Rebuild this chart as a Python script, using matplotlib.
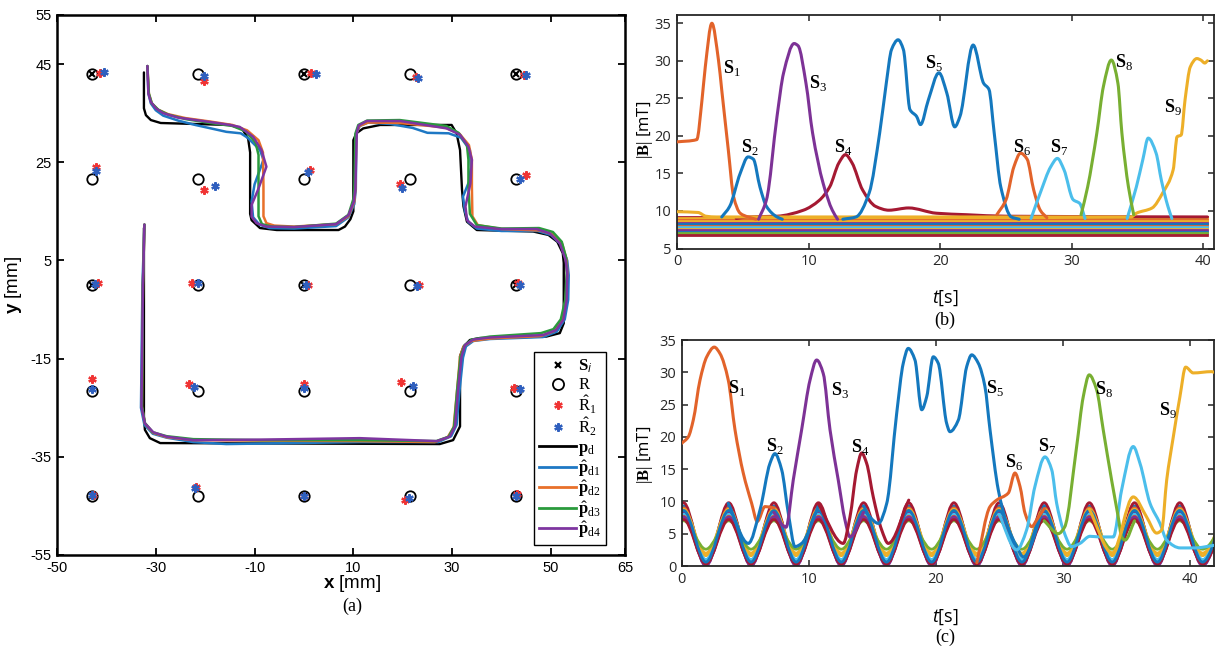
import numpy as np
import matplotlib
matplotlib.use('Agg')
import matplotlib.pyplot as plt
from matplotlib.path import Path
from matplotlib.patches import PathPatch
from matplotlib.lines import Line2D

plt.rcParams['axes.unicode_minus'] = False
plt.rcParams['mathtext.fontset'] = 'custom'
plt.rcParams['mathtext.rm'] = 'Liberation Serif'
plt.rcParams['mathtext.bf'] = 'Liberation Serif:bold'
plt.rcParams['mathtext.it'] = 'Open Sans:italic'
plt.rcParams['mathtext.sf'] = 'Liberation Sans:bold'

# ---------------- colours ----------------
MB, MO, MY, MP = '#1478BE', '#E2632A', '#EDAF28', '#7D3296'
MG, MC, MR = '#78AF32', '#4BBEEB', '#A51932'

# ---------------- panel (a) data ----------------
grid_x = [-43, -21.5, 0, 21.5, 43]
grid_y = [43, 21.5, 0, -21.5, -43]
sensor_x = [-43, 0, 43]
sensor_y = [43, 0, -43]

r1_x = [-41.2, -20.3, 1.35, 22.7, 44.55,
        -42.1, -20.3, 1.2, 19.5, 45.0,
        -41.8, -22.65, 0.9, 23.25, 43.4,
        -43.0, -23.3, 0.0, 19.7, 42.55,
        -42.8, -21.8, 0.1, 20.4, 43.2]
r1_y = [43.2, 41.6, 43.2, 42.45, 42.8,
        24.0, 19.3, 23.4, 20.55, 22.5,
        0.5, 0.35, 0.1, 0.0, 0.5,
        -19.2, -20.1, -20.15, -19.7, -20.9,
        -42.7, -41.2, -42.9, -43.75, -42.6]
r2_x = [-40.5, -20.2, 2.5, 23.0, 44.9,
        -42.1, -18.1, 0.9, 19.9, 43.75,
        -42.3, -21.5, 0.4, 22.9, 43.75,
        -43.0, -22.3, 0.0, 22.05, 43.7,
        -43.0, -22.0, 0.0, 21.3, 43.0]
r2_y = [43.3, 42.5, 43.0, 42.1, 42.8,
        23.2, 20.1, 23.1, 19.8, 21.5,
        0.15, 0.5, 0.0, -0.3, 0.0,
        -21.15, -20.75, -21.0, -20.55, -21.2,
        -42.8, -41.3, -42.9, -43.4, -43.0]

path_pd = [(-32.4, 43.3), (-32.4, 36.0), (-32.0, 34.6), (-31.0, 33.6), (-29.0, 33.0),
           (-15.0, 32.6), (-12.5, 31.8), (-11.3, 29.8), (-10.9, 27.0), (-10.9, 14.5),
           (-10.6, 13.2), (-8.9, 11.6), (-5.5, 11.2), (7.0, 11.2), (8.3, 11.9),
           (9.4, 13.4), (10.0, 15.0), (10.0, 29.5), (10.6, 30.9), (12.0, 31.9),
           (15.4, 32.6), (29.9, 32.6), (30.9, 30.9), (31.6, 27.5), (32.0, 19.4),
           (32.3, 16.0), (33.0, 12.9), (35.0, 11.2), (46.4, 10.9), (49.5, 10.2),
           (51.3, 8.8), (52.4, 6.5), (52.6, 4.5), (52.6, -7.8), (51.8, -9.8),
           (49.1, -10.5), (35.6, -10.8), (33.6, -11.2), (32.3, -12.6), (31.6, -14.5),
           (31.6, -28.8), (30.2, -31.6), (27.5, -32.4), (-29.1, -32.2), (-31.2, -31.2),
           (-32.2, -29.5), (-32.4, -27.0), (-32.4, 11.6)]

path_d1 = [(-31.7, 44.6), (-31.5, 39.0), (-31.0, 37.0), (-30.0, 35.6), (-28.5, 34.5),
           (-25.5, 33.5), (-22.0, 32.6), (-15.7, 31.2), (-12.8, 30.9), (-11.4, 30.0),
           (-8.9, 27.5), (-8.2, 25.5), (-10.0, 20.5), (-10.6, 17.0), (-10.3, 13.8),
           (-9.0, 12.3), (-7.0, 11.6), (-2.0, 11.5), (6.5, 12.0), (9.0, 13.8),
           (10.2, 16.5), (10.5, 19.5), (10.6, 30.8), (11.3, 32.4), (13.0, 33.1),
           (17.5, 32.8), (22.0, 32.0), (25.0, 31.0), (29.3, 30.9), (31.8, 30.0),
           (33.6, 27.5), (33.8, 24.0), (33.4, 21.0), (32.2, 18.0), (32.6, 15.0),
           (33.3, 12.8), (35.0, 11.5), (40.0, 11.0), (47.3, 11.0), (50.0, 10.2),
           (52.0, 8.3), (53.3, 5.0), (53.6, 2.0), (53.5, -3.0), (52.8, -7.0),
           (51.2, -9.5), (48.4, -10.6), (37.7, -11.0), (34.3, -11.4), (32.8, -12.5),
           (32.2, -14.8), (31.5, -21.5), (30.9, -28.5), (29.8, -30.8), (27.2, -32.0),
           (11.3, -32.0), (-8.9, -32.3), (-15.7, -32.4), (-22.4, -32.0), (-27.8, -31.1),
           (-30.6, -30.3), (-32.3, -28.5), (-33.0, -25.0), (-32.7, 0.0), (-32.3, 12.3)]

path_d2 = [(-31.7, 44.6), (-31.4, 39.0), (-30.8, 37.0), (-29.5, 35.7), (-27.5, 34.8),
           (-24.0, 34.0), (-19.0, 33.3), (-14.5, 32.6), (-11.5, 31.5), (-9.2, 29.5),
           (-8.3, 27.0), (-8.2, 20.0), (-8.2, 14.0), (-7.6, 12.6), (-6.0, 12.1),
           (-2.0, 11.9), (6.5, 12.4), (9.0, 14.0), (10.2, 17.0), (10.4, 19.5),
           (10.6, 30.8), (11.2, 32.4), (13.0, 33.1), (19.4, 33.0), (28.5, 32.1),
           (31.5, 30.8), (33.4, 28.5), (34.0, 25.5), (34.0, 20.0), (34.1, 14.0),
           (35.2, 12.2), (40.0, 11.4), (47.8, 11.1), (50.5, 10.3), (52.3, 8.3),
           (53.2, 5.0), (53.3, 2.5), (53.0, -3.0), (52.2, -7.2), (50.6, -9.4),
           (48.0, -10.4), (37.7, -10.9), (34.0, -11.4), (32.3, -12.5), (31.6, -14.6),
           (31.0, -21.5), (30.3, -29.0), (29.1, -31.0), (26.5, -32.0), (11.3, -31.8),
           (-8.9, -31.7), (-22.4, -31.6), (-27.8, -31.0), (-30.6, -30.1), (-32.2, -28.2),
           (-32.8, -24.8), (-32.6, 0.0), (-32.3, 12.3)]

path_d3 = [(-31.7, 44.6), (-31.4, 39.0), (-30.8, 37.0), (-29.5, 35.7), (-27.5, 34.7),
           (-24.0, 33.8), (-19.0, 33.0), (-14.5, 32.4), (-11.8, 31.3), (-9.8, 29.0),
           (-9.2, 26.5), (-9.2, 20.0), (-9.2, 14.0), (-8.5, 12.4), (-6.5, 11.9),
           (-2.0, 11.8), (6.5, 12.5), (9.0, 14.3), (10.0, 17.5), (10.2, 19.5),
           (10.4, 30.8), (11.0, 32.6), (12.8, 33.5), (19.4, 33.6), (28.8, 32.4),
           (31.3, 31.0), (33.0, 28.5), (33.3, 25.5), (33.3, 20.0), (33.6, 14.5),
           (35.0, 12.2), (40.0, 11.5), (47.6, 11.6), (50.4, 10.8), (52.2, 8.8),
           (53.1, 5.5), (53.2, 2.5), (52.9, -3.0), (52.0, -7.0), (50.5, -9.0),
           (48.0, -9.8), (37.7, -10.5), (34.0, -11.1), (32.5, -12.3), (31.7, -14.6),
           (31.0, -21.5), (30.4, -28.8), (29.3, -30.9), (26.8, -31.8), (11.3, -31.6),
           (-8.9, -31.6), (-22.4, -31.4), (-27.8, -30.8), (-30.6, -30.0), (-32.2, -28.1),
           (-32.8, -24.7), (-32.6, 0.0), (-32.3, 12.3)]

path_d4 = [(-31.7, 44.6), (-31.5, 39.0), (-31.0, 37.3), (-30.0, 36.0), (-28.5, 35.0),
           (-25.5, 34.1), (-19.0, 33.2), (-15.0, 32.6), (-13.0, 32.2), (-10.3, 30.2),
           (-8.6, 27.5), (-7.6, 24.1), (-9.3, 19.4), (-10.6, 16.3), (-10.6, 13.9),
           (-9.6, 12.6), (-7.6, 11.9), (-2.0, 11.8), (6.5, 12.4), (9.0, 14.2),
           (10.1, 17.0), (10.4, 19.4), (10.7, 31.0), (11.1, 32.5), (12.7, 33.4),
           (19.5, 33.4), (28.9, 31.9), (31.6, 30.6), (33.3, 28.2), (34.0, 25.5),
           (33.7, 20.7), (32.7, 16.0), (33.0, 13.2), (34.6, 11.9), (39.7, 11.4),
           (47.1, 11.4), (49.8, 10.5), (51.8, 8.5), (53.0, 5.0), (53.3, 2.4),
           (53.2, -3.0), (52.5, -7.1), (51.0, -9.2), (48.4, -10.2), (37.7, -10.7),
           (34.3, -11.1), (32.6, -12.2), (31.9, -14.6), (31.2, -21.4), (30.6, -28.8),
           (29.5, -30.9), (26.9, -31.8), (11.3, -31.2), (-8.9, -31.5), (-22.4, -31.6),
           (-27.8, -30.9), (-30.5, -30.0), (-32.2, -28.2), (-32.9, -24.8), (-32.6, 0.0),
           (-32.3, 12.3)]

# ---------------- panel (b) data ----------------
b_S1 = [(0, 19.2), (1.5, 19.5), (1.9, 24.8), (2.15, 29.2), (2.65, 35.0), (3.15, 30.1),
        (3.4, 26.1), (3.9, 18.1), (4.3, 11.9), (4.8, 9.7), (5.4, 9.2), (6.0, 8.9)]
b_S2 = [(3.4, 9.2), (4.0, 10.6), (4.8, 15.0), (5.4, 17.2), (5.8, 16.9), (6.3, 13.2),
        (6.8, 10.6), (7.6, 9.2), (8.0, 8.9)]
b_S3 = [(6.2, 8.9), (6.8, 11.5), (7.6, 22.6), (8.1, 28.4), (8.9, 32.3), (9.2, 32.0),
        (9.8, 27.0), (10.3, 20.4), (11.1, 13.7), (11.8, 10.1), (12.2, 8.9)]
b_S4 = [(4.5, 9.0), (5.4, 9.2), (7.6, 9.3), (9.6, 10.1), (10.8, 11.4), (11.6, 13.2),
        (12.3, 16.4), (12.8, 17.5), (13.3, 16.4), (14.1, 12.8), (15.1, 10.6), (16.1, 10.1),
        (17.6, 10.4), (19.7, 9.7), (22.0, 9.5), (25.0, 9.3), (40.3, 9.2)]
b_S5 = [(12.6, 8.9), (13.6, 9.2), (14.6, 12.4), (15.4, 20.4), (15.9, 27.0), (16.3, 31.5),
        (16.8, 32.8), (17.2, 31.5), (17.7, 23.5), (18.2, 22.6), (18.5, 21.5), (19.1, 24.8),
        (19.9, 28.4), (20.5, 25.7), (21.1, 21.2), (21.5, 22.6), (22.5, 32.1), (23.3, 27.0),
        (23.7, 26.2), (24.1, 20.4), (24.6, 13.2), (25.4, 9.2), (26.0, 8.9)]
b_S6 = [(24.3, 9.5), (25.0, 11.5), (25.6, 15.9), (26.1, 17.7), (26.6, 16.9), (27.1, 12.8),
        (27.6, 10.1), (28.1, 9.1)]
b_S7 = [(26.9, 9.0), (27.6, 12.4), (28.4, 15.9), (28.9, 17.0), (29.4, 15.5), (30.1, 11.5),
        (30.6, 11.0), (31.0, 9.0)]
b_S7b = [(34.2, 9.0), (34.9, 13.2), (35.4, 16.9), (35.8, 19.7), (36.4, 17.7), (36.8, 14.1),
         (37.3, 10.6), (37.6, 9.0)]
b_S8 = [(30.7, 9.5), (31.2, 13.2), (31.9, 20.4), (32.4, 26.6), (33.0, 30.1), (33.5, 27.0),
        (33.8, 20.4), (34.3, 13.2), (34.7, 9.5)]
b_S9 = [(0, 9.9), (1.6, 9.8), (2.2, 9.3), (3.0, 9.2), (34.5, 9.2), (34.9, 9.7), (36.1, 10.4),
        (36.9, 12.4), (37.7, 15.5), (38.0, 19.9), (38.3, 20.1), (38.6, 24.8), (39.0, 29.2),
        (39.5, 30.3), (39.8, 30.1), (40.1, 29.7), (40.3, 30.0)]
b_bg_levels = [9.2, 9.0, 8.8, 8.6, 8.4, 8.2, 8.0, 7.8, 7.6, 7.4, 7.2, 7.0, 6.85]
b_bg_colors = [MR, MY, MO, MY, MP, MB, MO, MC, MY, MP, MB, MG, MR]
b_t_end = 40.3

# ---------------- panel (c) data ----------------
c_t_ext = [-1.6, 0.15, 1.9, 3.7, 5.45, 7.25, 9.0, 10.75, 12.55, 14.3, 16.1, 17.85, 19.65,
           21.4, 23.2, 24.95, 26.75, 28.5, 30.3, 32.05, 33.85, 35.6, 37.4, 39.15, 40.95, 42.7]
c_bg_colors = [MB, MR, MO, MY, MP, MC, MO, MY, MG, MP, MR, MB]
c_bg_peak = [9.3, 9.8, 9.0, 8.8, 8.4, 8.0, 7.7, 7.4, 7.0, 7.6, 7.2, 8.6]
c_bg_trough = [0.8, 0.1, 0.5, 1.6, 0.0, 1.0, 0.4, 2.0, 2.6, 0.2, 0.3, 0.6]

c_S1 = [(0, 19.0), (0.52, 20.0), (0.91, 22.6), (1.44, 28.8), (1.97, 32.4), (2.56, 33.9),
        (3.01, 32.9), (3.66, 28.8), (4.19, 21.1), (4.84, 14.4), (5.5, 9.7), (5.94, 6.9),
        (6.55, 9.2), (7.25, 9.0)]
c_S2 = [(3.66, 9.7), (5.24, 3.5), (6.16, 8.7), (6.94, 15.9), (7.33, 17.4), (7.86, 14.9),
        (8.38, 8.2), (8.91, 3.0), (9.43, 3.5), (10.75, 9.3)]
c_S3 = [(7.25, 8.3), (8.2, 6.0), (8.77, 13.3), (9.43, 21.1), (10.09, 28.8), (10.61, 31.9),
        (11.13, 29.8), (11.66, 21.1), (12.31, 13.3), (12.84, 7.1), (13.23, 4.5), (14.3, 8.3)]
c_S4 = [(10.75, 9.6), (12.7, 3.5), (13.23, 7.6), (13.76, 14.9), (14.15, 17.5), (14.54, 15.9),
        (15.06, 10.7), (15.72, 5.6), (16.24, 3.5), (17.85, 10.2)]
c_S5 = [(14.3, 9.3), (14.8, 7.6), (15.46, 6.6), (16.12, 9.7), (16.9, 23.6), (17.42, 31.4),
        (17.81, 33.7), (18.34, 31.9), (18.87, 24.2), (19.26, 26.2), (19.78, 32.4),
        (20.17, 31.4), (20.83, 22.1), (21.09, 20.8), (21.75, 22.6), (22.41, 30.9),
        (22.8, 32.7), (23.32, 31.4), (23.84, 27.8), (24.24, 21.1), (24.89, 11.8),
        (25.55, 6.6), (26.34, 3.0), (26.86, 1.4), (28.5, 9.3)]
c_S6 = [(23.2, 0.5), (24.24, 9.2), (24.76, 10.2), (25.68, 11.3), (26.2, 14.4), (26.6, 12.3),
        (26.99, 8.2), (27.52, 6.1), (27.9, 7.1), (28.5, 8.9)]
c_S7 = [(24.95, 8.0), (26.34, 2.5), (27.12, 5.6), (27.77, 12.3), (28.56, 16.9), (29.09, 14.9),
        (29.48, 9.7), (30.0, 5.6), (30.66, 3.0), (31.31, 3.5), (32.1, 4.6), (32.88, 4.5),
        (33.93, 4.5), (34.59, 11.8), (35.5, 18.5), (36.03, 15.9), (36.82, 9.7), (37.6, 6.6),
        (38.13, 4.0), (39.2, 2.8), (40.35, 2.8), (41.85, 3.2)]
c_S8 = [(28.5, 7.0), (29.6, 5.0), (30.1, 6.0), (31.05, 18.5), (31.57, 26.2), (32.04, 29.6),
        (32.62, 27.3), (33.14, 21.1), (33.8, 13.3), (34.32, 7.6), (34.59, 4.5), (34.85, 4.0),
        (35.6, 7.0)]
c_S9 = [(32.05, 8.8), (33.85, 2.0), (35.5, 10.7), (36.55, 7.6), (37.34, 5.1), (37.74, 5.6),
        (38.13, 13.3), (38.65, 20.0), (39.17, 26.2), (39.62, 30.8), (40.22, 29.9),
        (41.66, 30.1), (41.85, 30.0)]

s_names = [r'$\mathbf{S}_{%d}$' % k for k in range(1, 10)]
b_label_pos = [(4.18, 29.1), (5.55, 18.5), (10.7, 27.1), (12.6, 18.5), (19.5, 29.7),
               (26.2, 18.5), (29.0, 18.5), (34.0, 29.9), (37.7, 23.9)]
c_label_pos = [(4.35, 27.6), (7.33, 18.6), (12.45, 27.3), (14.0, 18.4), (24.6, 27.6),
               (26.1, 16.1), (28.7, 18.6), (33.2, 27.4), (38.2, 24.2)]


def pchip_path(pts):
    p = np.asarray(pts, float)
    x, y = p[:, 0], p[:, 1]
    n = len(x)
    h = np.diff(x)
    d = np.diff(y) / h
    m = np.zeros(n)
    m[0], m[-1] = d[0], d[-1]
    for i in range(1, n - 1):
        if d[i - 1] * d[i] > 0:
            w1 = 2 * h[i] + h[i - 1]
            w2 = h[i] + 2 * h[i - 1]
            m[i] = (w1 + w2) / (w1 / d[i - 1] + w2 / d[i])
    verts = [(x[0], y[0])]
    codes = [Path.MOVETO]
    for i in range(n - 1):
        dx = h[i]
        verts += [(x[i] + dx / 3, y[i] + m[i] * dx / 3),
                  (x[i + 1] - dx / 3, y[i + 1] - m[i + 1] * dx / 3),
                  (x[i + 1], y[i + 1])]
        codes += [Path.CURVE4] * 3
    return Path(verts, codes)


def draw_curve(ax, pts, color, lw=2.0, z=2):
    ax.add_patch(PathPatch(pchip_path(pts), fill=False, edgecolor=color, lw=lw,
                           joinstyle='round', capstyle='round', zorder=z))


W, H = 1216, 649
fig = plt.figure(figsize=(W / 100, H / 100), dpi=100)

# ================= panel (a) =================
axA = fig.add_axes([57 / W, 1 - 555 / H, 568 / W, 540 / H])
axA.set_xlim(-50, 65)
axA.set_ylim(-55, 55)
axA.set_xticks([-50, -30, -10, 10, 30, 50, 65])
axA.set_yticks([-55, -35, -15, 5, 25, 45, 55])
axA.tick_params(direction='in', top=True, right=True, length=5, width=1.3,
                labelsize=10.5, pad=4)
for lab in axA.get_xticklabels() + axA.get_yticklabels():
    lab.set_family('Liberation Sans')
for s in axA.spines.values():
    s.set_linewidth(1.8)

traj_cols = ['#1E78C4', '#E8702A', '#2A9A3C', '#7E35A0']
for path, c in zip([path_pd, path_d1, path_d2, path_d3, path_d4], ['k'] + traj_cols):
    arr = np.array(path)
    axA.plot(arr[:, 0], arr[:, 1], color=c, lw=1.7 if c == 'k' else 1.8,
             solid_joinstyle='round', solid_capstyle='round', zorder=2)

gx, gy = np.meshgrid(grid_x, grid_y)
axA.plot(gx.ravel(), gy.ravel(), 'o', ms=7.5, mfc='none', mec='k', mew=1.3, zorder=3)
sx, sy = np.meshgrid(sensor_x, sensor_y)
axA.plot(sx.ravel(), sy.ravel(), 'x', ms=4.2, color='k', mew=1.5, zorder=4)
star = (6, 2, 0)
RED, BLUE = '#F03434', '#2F5FBE'
axA.plot(r1_x, r1_y, ls='none', marker=star, ms=6, mec=RED, mew=1.6, zorder=5)
axA.plot(r2_x, r2_y, ls='none', marker=star, ms=6, mec=BLUE, mew=1.6, zorder=6)

handles = [
    Line2D([], [], ls='none', marker='x', color='k', ms=4.5, mew=1.6),
    Line2D([], [], ls='none', marker='o', mfc='none', mec='k', ms=8, mew=1.3),
    Line2D([], [], ls='none', marker=star, mec=RED, ms=6, mew=1.6),
    Line2D([], [], ls='none', marker=star, mec=BLUE, ms=6, mew=1.6),
    Line2D([], [], color='k', lw=2.0),
] + [Line2D([], [], color=c, lw=2.0) for c in traj_cols]
labels = [r'$\mathbf{S}_{i}$', r'$\mathrm{R}$', r'$\hat{\mathrm{R}}_{1}$',
          r'$\hat{\mathrm{R}}_{2}$', r'$\mathbf{p}_{\mathrm{d}}$',
          r'$\hat{\mathbf{p}}_{\mathrm{d1}}$', r'$\hat{\mathbf{p}}_{\mathrm{d2}}$',
          r'$\hat{\mathbf{p}}_{\mathrm{d3}}$', r'$\hat{\mathbf{p}}_{\mathrm{d4}}$']
leg = axA.legend(handles, labels, loc='lower right', bbox_to_anchor=(0.966, 0.018),
                 fontsize=12, labelspacing=0.0, handlelength=2.2, handletextpad=0.1,
                 borderpad=0.3, borderaxespad=0.0, fancybox=False, framealpha=1,
                 edgecolor='k')
leg.get_frame().set_linewidth(1.0)

fig.text(352 / W, 1 - 583 / H, r'$\mathsf{x}$ [mm]', ha='center', va='center',
         fontsize=13.5, family='Liberation Sans')
fig.text(352 / W, 1 - 606 / H, '(a)', ha='center', va='center', fontsize=13,
         family='Liberation Serif')
fig.text(14 / W, 1 - 285 / H, r'$\mathsf{y}$ [mm]', ha='center', va='center',
         fontsize=13.5, family='Liberation Sans', rotation=90)


def style_sig(ax):
    ax.tick_params(direction='in', top=True, right=True, length=4, width=1.1,
                   labelsize=10.5, pad=4, colors='#262626')
    for lab in ax.get_xticklabels() + ax.get_yticklabels():
        lab.set_family('Open Sans')
    for s in ax.spines.values():
        s.set_linewidth(1.3)
        s.set_color('#262626')


# ================= panel (b) =================
axB = fig.add_axes([677 / W, 1 - 248.5 / H, 537 / W, 233.5 / H])
axB.set_xlim(0, 40.8)
axB.set_ylim(5, 36.1)
axB.set_xticks([0, 10, 20, 30, 40])
axB.set_yticks([5, 10, 15, 20, 25, 30, 35])
style_sig(axB)
for lvl, c in zip(b_bg_levels, b_bg_colors):
    axB.plot([0, b_t_end], [lvl, lvl], color=c, lw=2.0, zorder=2)
for pts, c in [(b_S4, MR), (b_S9, MY), (b_S1, MO), (b_S2, MB), (b_S3, MP), (b_S5, MB),
               (b_S6, MO), (b_S7, MC), (b_S7b, MC), (b_S8, MG)]:
    draw_curve(axB, pts, c, lw=2.2, z=3)
for name, (tx, ty) in zip(s_names, b_label_pos):
    axB.text(tx, ty, name, ha='center', va='center', fontsize=13, zorder=5)

fig.text(645 / W, 1 - 130 / H, r'$|\mathbf{B}|$ [mT]', ha='center', va='center',
         fontsize=12, family='Open Sans', rotation=90)
fig.text(945 / W, 1 - 298 / H, r'$t$[s]', ha='center', va='center', fontsize=13,
         family='Open Sans')
fig.text(945 / W, 1 - 320 / H, '(b)', ha='center', va='center', fontsize=13,
         family='Liberation Serif')

# ================= panel (c) =================
axC = fig.add_axes([681.7 / W, 1 - 566 / H, 532.3 / W, 226 / H])
axC.set_xlim(0, 41.85)
axC.set_ylim(0, 35)
axC.set_xticks([0, 10, 20, 30, 40])
axC.set_yticks([0, 5, 10, 15, 20, 25, 30, 35])
style_sig(axC)
for c, pk, tr in zip(c_bg_colors, c_bg_peak, c_bg_trough):
    vals = [pk if k % 2 else tr for k in range(len(c_t_ext))]
    draw_curve(axC, list(zip(c_t_ext, vals)), c, lw=2.0, z=2)
for pts, c in [(c_S1, MO), (c_S2, MB), (c_S3, MP), (c_S4, MR), (c_S5, MB), (c_S6, MO),
               (c_S7, MC), (c_S8, MG), (c_S9, MY)]:
    draw_curve(axC, pts, c, lw=2.2, z=3)
for name, (tx, ty) in zip(s_names, c_label_pos):
    axC.text(tx, ty, name, ha='center', va='center', fontsize=13, zorder=5)

fig.text(645 / W, 1 - 455 / H, r'$|\mathbf{B}|$ [mT]', ha='center', va='center',
         fontsize=12, family='Open Sans', rotation=90)
fig.text(945 / W, 1 - 617 / H, r'$t$[s]', ha='center', va='center', fontsize=13,
         family='Open Sans')
fig.text(945 / W, 1 - 637 / H, '(c)', ha='center', va='center', fontsize=13,
         family='Liberation Serif')

fig.savefig('out.png', dpi=100)
